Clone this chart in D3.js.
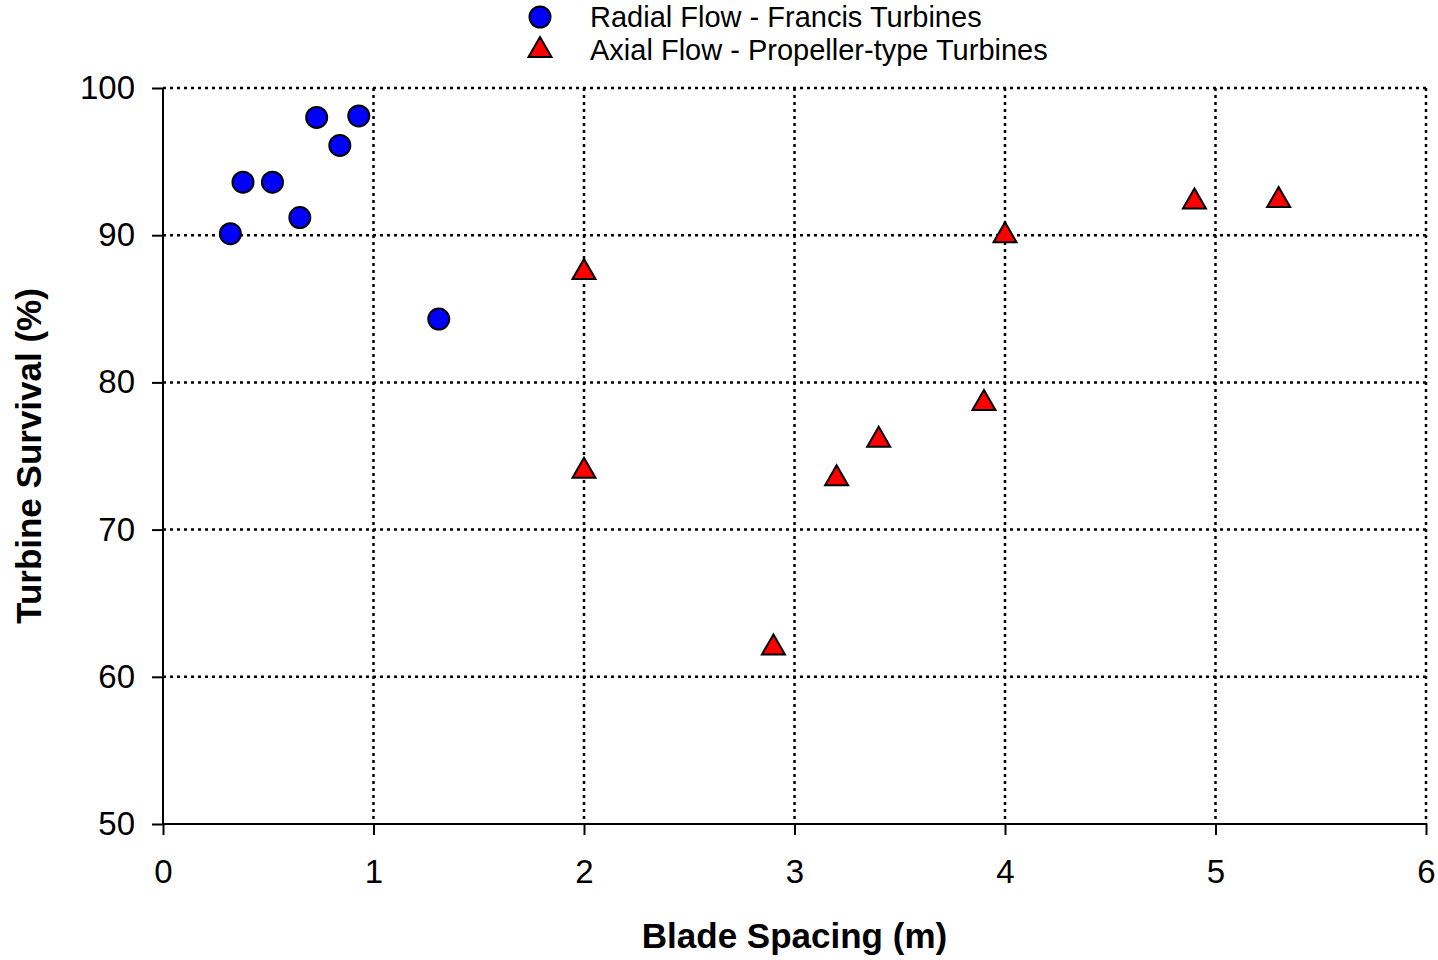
<!DOCTYPE html>
<html>
<head>
<meta charset="utf-8">
<script src="https://cdn.jsdelivr.net/npm/d3@7"></script>
<style>
  body { margin: 0; background: #fff; }
  svg text { font-family: "Liberation Sans", Arial, sans-serif; fill: #000; }
</style>
</head>
<body>
<div class="canvas"></div>
<script>
// data
const radialX = [0.32, 0.38, 0.52, 0.65, 0.73, 0.84, 0.93, 1.31]
const radialY = [90.1, 93.6, 93.6, 91.2, 98.0, 96.1, 98.1, 84.3]
const axialX = [2.0, 2.0, 2.9, 3.2, 3.4, 3.9, 4.0, 4.9, 5.3]
const axialY = [87.7, 74.2, 62.2, 73.7, 76.3, 78.8, 90.2, 92.5, 92.6]
const xTicks = [0, 1, 2, 3, 4, 5, 6]
const yTicks = [50, 60, 70, 80, 90, 100]
const legendLabels = ["Radial Flow - Francis Turbines", "Axial Flow - Propeller-type Turbines"]

/**
 * Dimensions
 */
const dims = { width: 1438, height: 960 }
const plot = { left: 163, right: 1426, top: 88, bottom: 824 }

const svg = d3.select(".canvas")
    .append("svg")
    .attr("width", dims.width)
    .attr("height", dims.height)

const x = d3.scaleLinear().domain([0, 6]).range([plot.left, plot.right])
const y = d3.scaleLinear().domain([50, 100]).range([plot.bottom, plot.top])

// dotted grid
const grid = svg.append("g")
grid.selectAll(".vgrid")
    .data(xTicks.filter(d => d > 0))
    .enter().append("line")
    .attr("x1", d => x(d)).attr("x2", d => x(d))
    .attr("y1", plot.top).attr("y2", plot.bottom)
grid.selectAll(".hgrid")
    .data(yTicks.filter(d => d > 50))
    .enter().append("line")
    .attr("x1", plot.left).attr("x2", plot.right)
    .attr("y1", d => y(d)).attr("y2", d => y(d))
grid.selectAll("line")
    .attr("stroke", "#000")
    .attr("stroke-width", 2.5)
    .attr("stroke-dasharray", "3,4")

/**
 * Axes
 */
const xAxis = svg.append("g")
    .attr("transform", `translate(0, ${plot.bottom})`)
    .call(d3.axisBottom(x).tickValues(xTicks).tickFormat(d3.format("d")).tickSize(11).tickPadding(25))
const yAxis = svg.append("g")
    .attr("transform", `translate(${plot.left}, 0)`)
    .call(d3.axisLeft(y).tickValues(yTicks).tickFormat(d3.format("d")).tickSize(11).tickPadding(17))

;[xAxis, yAxis].forEach(ax => {
    ax.select(".domain").attr("stroke", "#000").attr("stroke-width", 2)
        .attr("d", ax === xAxis ? `M${plot.left},0H${plot.right}` : `M0,${plot.top}V${plot.bottom}`)
    ax.selectAll(".tick line").attr("stroke", "#000").attr("stroke-width", 2)
    ax.selectAll(".tick text")
        .attr("font-family", "Liberation Sans, Arial, sans-serif")
        .attr("font-size", 33)
        .attr("fill", "#000")
})

// axis titles
svg.append("text")
    .attr("x", (plot.left + plot.right) / 2)
    .attr("y", 948)
    .attr("text-anchor", "middle")
    .attr("font-size", 35)
    .attr("font-weight", "bold")
    .text("Blade Spacing (m)")

svg.append("text")
    .attr("transform", `translate(41, ${(plot.top + plot.bottom) / 2}) rotate(-90)`)
    .attr("text-anchor", "middle")
    .attr("font-size", 35)
    .attr("font-weight", "bold")
    .text("Turbine Survival (%)")

/**
 * Markers
 */
const triW = 23, triH = 20
const triPath = `M0,${-triH / 2}L${triW / 2},${triH / 2}L${-triW / 2},${triH / 2}Z`

svg.append("g").selectAll("path")
    .data(d3.zip(axialX, axialY))
    .enter().append("path")
    .attr("d", triPath)
    .attr("transform", d => `translate(${x(d[0])}, ${y(d[1])})`)
    .attr("fill", "#ff0000")
    .attr("stroke", "#000")
    .attr("stroke-width", 2)

svg.append("g").selectAll("circle")
    .data(d3.zip(radialX, radialY))
    .enter().append("circle")
    .attr("cx", d => x(d[0]))
    .attr("cy", d => y(d[1]))
    .attr("r", 10.5)
    .attr("fill", "#0000ff")
    .attr("stroke", "#000")
    .attr("stroke-width", 2)

/**
 * Legend
 */
const legend = svg.append("g")
legend.append("circle")
    .attr("cx", 540).attr("cy", 17).attr("r", 10.5)
    .attr("fill", "#0000ff").attr("stroke", "#000").attr("stroke-width", 2)
legend.append("path")
    .attr("d", triPath)
    .attr("transform", "translate(540, 47)")
    .attr("fill", "#ff0000").attr("stroke", "#000").attr("stroke-width", 2)
legend.selectAll("text")
    .data(legendLabels)
    .enter().append("text")
    .attr("x", 590)
    .attr("y", (d, i) => 27 + i * 33)
    .attr("font-size", 29)
    .text(d => d)
</script>
</body>
</html>
